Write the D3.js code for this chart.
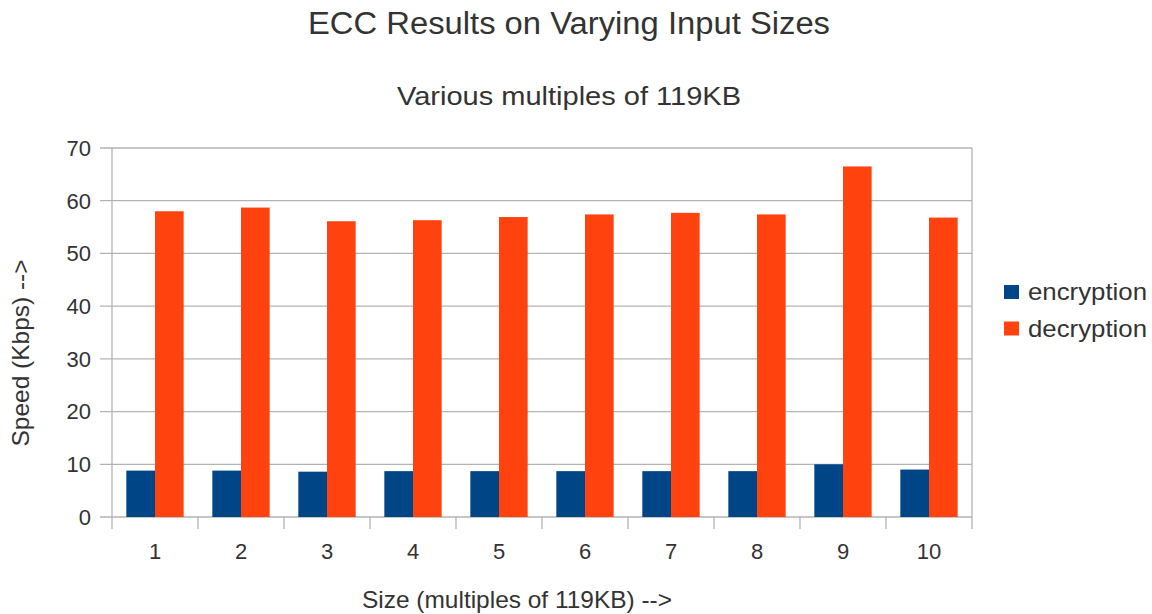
<!DOCTYPE html>
<html>
<head>
<meta charset="utf-8">
<script src="https://cdn.jsdelivr.net/npm/d3@7"></script>
<style>
  body { margin: 0; background: #fff; }
  text { font-family: "Liberation Sans", Arial, sans-serif; fill: #333; }
</style>
</head>
<body>
<svg id="chart" width="1152" height="614"></svg>
<script>
// data
var sizes = ["1", "2", "3", "4", "5", "6", "7", "8", "9", "10"];
var encryption = [8.8, 8.8, 8.6, 8.7, 8.7, 8.7, 8.7, 8.7, 10.0, 9.0];
var decryption = [58.0, 58.7, 56.1, 56.3, 56.9, 57.4, 57.7, 57.4, 66.5, 56.8];
var seriesNames = ["encryption", "decryption"];
var seriesColors = ["#004586", "#ff420e"];
var yTicks = [0, 10, 20, 30, 40, 50, 60, 70];

var svg = d3.select("#chart");
var margin = {top: 148, right: 180, bottom: 97, left: 112};
var width = 1152 - margin.left - margin.right,
    height = 614 - margin.top - margin.bottom;

var x = d3.scaleBand().domain(sizes).range([0, width]).paddingInner(0).paddingOuter(0);
var x1 = d3.scaleBand().domain(seriesNames).range([x.bandwidth() / 6, x.bandwidth() * 5 / 6]);
var y = d3.scaleLinear().domain([0, 70]).range([height, 0]);

var g = svg.append("g").attr("transform", "translate(" + margin.left + "," + margin.top + ")");

// gridlines (with little outside ticks on the left)
g.selectAll(".grid").data(yTicks).enter().append("line")
    .attr("x1", -12).attr("x2", width)
    .attr("y1", function(d) { return y(d); })
    .attr("y2", function(d) { return y(d); })
    .attr("stroke", "#b3b3b3").attr("stroke-width", 1.3);

// frame sides
g.append("line").attr("x1", 0).attr("x2", 0).attr("y1", 0).attr("y2", height + 12)
    .attr("stroke", "#b3b3b3").attr("stroke-width", 1.3);
g.append("line").attr("x1", width).attr("x2", width).attr("y1", 0).attr("y2", height + 12)
    .attr("stroke", "#b3b3b3").attr("stroke-width", 1.3);

// x ticks at the category boundaries
g.selectAll(".xtick").data(sizes.slice(1)).enter().append("line")
    .attr("x1", function(d) { return x(d); })
    .attr("x2", function(d) { return x(d); })
    .attr("y1", height).attr("y2", height + 12)
    .attr("stroke", "#b3b3b3").attr("stroke-width", 1.3);

var rows = sizes.map(function(s, i) {
  return {size: s, values: [encryption[i], decryption[i]]};
});

var groups = g.selectAll(".grp").data(rows).enter().append("g")
    .attr("transform", function(d) { return "translate(" + x(d.size) + ",0)"; });

groups.selectAll("rect").data(function(d) { return d.values; }).enter().append("rect")
    .attr("x", function(d, i) { return x1(seriesNames[i]); })
    .attr("width", x1.bandwidth())
    .attr("y", function(d) { return y(d); })
    .attr("height", function(d) { return height - y(d); })
    .attr("fill", function(d, i) { return seriesColors[i]; });

// y tick labels
g.selectAll(".ylab").data(yTicks).enter().append("text")
    .attr("x", -21).attr("y", function(d) { return y(d); })
    .attr("dy", "0.36em").attr("text-anchor", "end")
    .style("font-size", "22px")
    .text(function(d) { return d; });

// x tick labels
g.selectAll(".xlab").data(sizes).enter().append("text")
    .attr("x", function(d) { return x(d) + x.bandwidth() / 2; })
    .attr("y", height + 42)
    .attr("text-anchor", "middle")
    .style("font-size", "22px")
    .text(function(d) { return d; });

// titles (text stretched a bit to match the reference widths)
function label(txt, px, len) {
  return svg.append("text").attr("text-anchor", "middle")
      .attr("textLength", len).attr("lengthAdjust", "spacingAndGlyphs")
      .style("font-size", px + "px").text(txt);
}
label("ECC Results on Varying Input Sizes", 31, 522).attr("x", 569).attr("y", 34);
label("Various multiples of 119KB", 26, 344).attr("x", 569).attr("y", 105);
label("Size (multiples of 119KB) -->", 24, 310).attr("x", 517).attr("y", 608);
label("Speed (Kbps) -->", 24, 187).attr("transform", "translate(29,353) rotate(-90)");

// legend
var legend = svg.append("g").attr("transform", "translate(1004,285)");
seriesNames.forEach(function(name, i) {
  legend.append("rect").attr("x", 0).attr("y", i * 36.5).attr("width", 15).attr("height", 14)
      .attr("fill", seriesColors[i]);
  legend.append("text").attr("x", 24).attr("y", i * 36.5 + 15)
      .attr("textLength", 119).attr("lengthAdjust", "spacingAndGlyphs")
      .style("font-size", "24px").text(name);
});
</script>
</body>
</html>
